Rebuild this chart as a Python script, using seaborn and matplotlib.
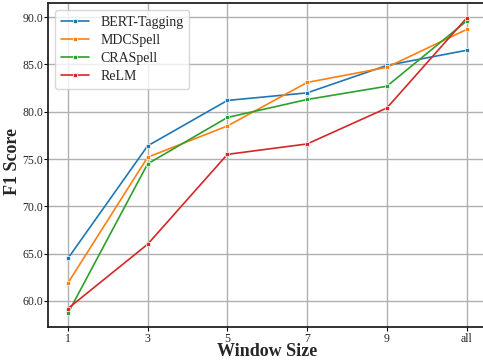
import matplotlib
matplotlib.use("Agg")
import matplotlib.pyplot as plt
import seaborn as sns
import pandas as pd

windows = ["1", "3", "5", "7", "9", "all"]
bert_tagging = [64.5, 76.4, 81.2, 82.0, 84.9, 86.5]
mdcspell = [61.9, 75.2, 78.5, 83.1, 84.7, 88.7]
craspell = [58.7, 74.5, 79.4, 81.3, 82.7, 89.6]
relm = [59.2, 66.0, 75.5, 76.6, 80.4, 89.9]
yticks = [60.0, 65.0, 70.0, 75.0, 80.0, 85.0, 90.0]

series = {"BERT-Tagging": bert_tagging, "MDCSpell": mdcspell,
          "CRASpell": craspell, "ReLM": relm}
rows = []
for name, vals in series.items():
    for i, (w, v) in enumerate(zip(windows, vals)):
        rows.append({"Model": name, "pos": i, "Window": w, "F1": v})
df = pd.DataFrame(rows)

sns.set_style("whitegrid", {"grid.color": "#b0b0b0", "axes.edgecolor": "black"})
plt.rcParams["font.family"] = ["Liberation Serif", "DejaVu Serif"]

fig = plt.figure(figsize=(4.83, 3.6), dpi=100)
ax = fig.add_axes([48/483, 1-327/360, 486.5/483 - 48/483, 324/360])

sns.lineplot(data=df, x="pos", y="F1", hue="Model", marker="s", markersize=3.5,
             markeredgecolor="white", markeredgewidth=0.5, linewidth=1.2,
             palette="tab10", ax=ax)

ax.set_xlim(-0.25, 5.25)
ax.set_ylim(57.25, 91.5)
ax.set_xticks(range(len(windows)))
ax.set_xticklabels(windows, fontsize=8.5)
ax.set_yticks(yticks)
ax.set_yticklabels([f"{t:.1f}" for t in yticks], fontsize=8.5)
ax.tick_params(axis="x", length=3, width=0.8, color="black", pad=1.0, bottom=True)
ax.tick_params(axis="y", length=3, width=0.8, color="black", pad=0.5, left=True)
ax.grid(True, color="#b0b0b0", linewidth=1.0)
for s in ax.spines.values():
    s.set_linewidth(1.3)
    s.set_color("#222222")

ax.set_xlabel("Window Size", fontsize=13, fontweight="bold")
ax.set_ylabel("F1 Score", fontsize=13, fontweight="bold")
ax.xaxis.set_label_coords(0.5, -0.05)
ax.yaxis.set_label_coords(-0.062, 0.51)

leg = ax.legend(loc="upper left", fontsize=10, frameon=True, framealpha=0.8,
                edgecolor="#cccccc", handlelength=2.0, borderpad=0.45,
                labelspacing=0.35, bbox_to_anchor=(0.0, 1.0))
leg.set_title(None)

fig.savefig("out.png", dpi=100)
